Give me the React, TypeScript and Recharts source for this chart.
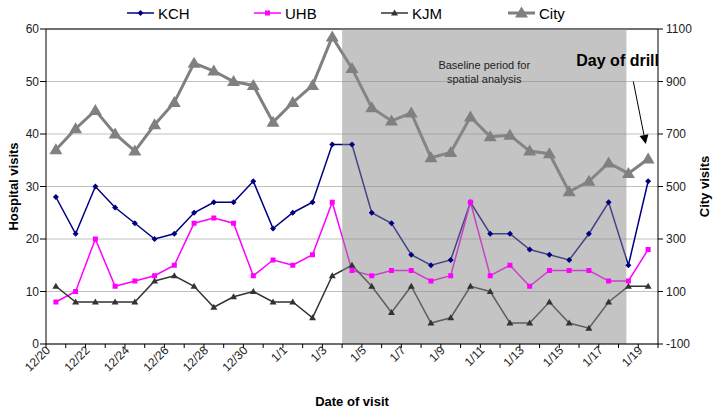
import React from "react";
import {
  ComposedChart,
  Line,
  XAxis,
  YAxis,
  CartesianGrid,
  ReferenceArea,
  ReferenceLine,
  Legend,
} from "recharts";

const dates = [
  "12/20", "12/21", "12/22", "12/23", "12/24", "12/25", "12/26", "12/27",
  "12/28", "12/29", "12/30", "12/31", "1/1", "1/2", "1/3", "1/4", "1/5",
  "1/6", "1/7", "1/8", "1/9", "1/10", "1/11", "1/12", "1/13", "1/14",
  "1/15", "1/16", "1/17", "1/18", "1/19",
];

const kch = [28, 21, 30, 26, 23, 20, 21, 25, 27, 27, 31, 22, 25, 27, 38, 38, 25, 23, 17, 15, 16, 27, 21, 21, 18, 17, 16, 21, 27, 15, 31];
const uhb = [8, 10, 20, 11, 12, 13, 15, 23, 24, 23, 13, 16, 15, 17, 27, 14, 13, 14, 14, 12, 13, 27, 13, 15, 11, 14, 14, 14, 12, 12, 18];
const kjm = [11, 8, 8, 8, 8, 12, 13, 11, 7, 9, 10, 8, 8, 5, 13, 15, 11, 6, 11, 4, 5, 11, 10, 4, 4, 8, 4, 3, 8, 11, 11];
const city = [640, 720, 790, 700, 635, 735, 820, 970, 940, 900, 885, 745, 820, 885, 1070, 950, 800, 750, 780, 610, 630, 765, 690, 695, 635, 625, 480, 520, 590, 550, 605];

const seriesNames = ["KCH", "UHB", "KJM", "City"];
const leftTicks = [0, 10, 20, 30, 40, 50, 60];
const rightTicks = [-100, 100, 300, 500, 700, 900, 1100];

// baseline window and drill arrow, in data units (day index / hospital visits)
const baselineStart = 14.5;
const baselineEnd = 28.9;
const drillArrow = [
  { x: 29.25, y: 50 },
  { x: 29.88, y: 38.1 },
];

const data = dates.map((d, i) => ({
  idx: i,
  date: d,
  KCH: kch[i],
  UHB: uhb[i],
  KJM: kjm[i],
  City: city[i],
}));

// boundaries between days, Excel-style tick marks
const xTicks = Array.from({ length: dates.length + 1 }, (_, i) => i - 0.5);

const FONT = "Arial, 'Liberation Sans', sans-serif";

const styles: Record<string, { color: string; width: number; marker: string }> = {
  KCH: { color: "#000080", width: 1.5, marker: "diamond" },
  UHB: { color: "#ff00ff", width: 1.5, marker: "square" },
  KJM: { color: "#333333", width: 1.5, marker: "smallTri" },
  City: { color: "#808080", width: 3, marker: "bigTri" },
};

function marker(kind: string, cx: number, cy: number, color: string, key?: any) {
  if (cx == null || cy == null) return <g key={key} />;
  switch (kind) {
    case "diamond":
      return (
        <polygon key={key} points={`${cx},${cy - 3} ${cx + 3},${cy} ${cx},${cy + 3} ${cx - 3},${cy}`} fill={color} />
      );
    case "square":
      return <rect key={key} x={cx - 2.5} y={cy - 2.5} width={5} height={5} fill={color} />;
    case "smallTri":
      return (
        <polygon key={key} points={`${cx},${cy - 3.5} ${cx + 3.5},${cy + 2.5} ${cx - 3.5},${cy + 2.5}`} fill={color} />
      );
    default:
      return (
        <polygon key={key} points={`${cx},${cy - 6.5} ${cx + 6.5},${cy + 4.5} ${cx - 6.5},${cy + 4.5}`} fill={color} />
      );
  }
}

const makeDot = (name: string) => (p: any) =>
  marker(styles[name].marker, p.cx, p.cy, styles[name].color, `${name}-${p.index}`);

const XTick = (props: any) => {
  const { x, y, payload } = props;
  const i = Math.round(payload.value + 0.5);
  if (i % 2 !== 0 || i >= dates.length) return <g />;
  const tx = x + 5;
  return (
    <text
      x={tx}
      y={y}
      transform={`rotate(-45 ${tx} ${y})`}
      textAnchor="end"
      fontSize={12}
      fontFamily={FONT}
      fill="#222"
    >
      {dates[i]}
    </text>
  );
};

const renderLegend = () => (
  <svg width={714} height={28}>
    {seriesNames.map((name, i) => {
      const st = styles[name];
      const x0 = 127 + i * 127;
      return (
        <g key={name}>
          <line x1={x0} y1={13} x2={x0 + 27} y2={13} stroke={st.color} strokeWidth={st.width} />
          {marker(st.marker, x0 + 13.5, 13, st.color)}
          <text x={x0 + 31} y={18.5} fontSize={15} fontFamily={FONT} fill="#000">
            {name}
          </text>
        </g>
      );
    })}
  </svg>
);

const BaselineLabel = (props: any) => {
  const vb = props.viewBox || {};
  const cx = vb.x + vb.width / 2;
  return (
    <g fontSize={11} fontFamily={FONT} fill="#222" textAnchor="middle">
      <text x={cx} y={vb.y + 40}>Baseline period for</text>
      <text x={cx} y={vb.y + 54}>spatial analysis</text>
    </g>
  );
};

const DrillArrow = (props: any) => {
  const { x1, y1, x2, y2 } = props;
  if (x1 == null) return <g />;
  const ang = Math.atan2(y2 - y1, x2 - x1);
  const L = 9;
  const W = 4.5;
  const bx = x2 - L * Math.cos(ang);
  const by = y2 - L * Math.sin(ang);
  const s = Math.sin(ang);
  const c = Math.cos(ang);
  return (
    <g>
      <line x1={x1} y1={y1} x2={bx} y2={by} stroke="#000" strokeWidth={1} />
      <polygon
        points={`${x2},${y2} ${bx + W * s},${by - W * c} ${bx - W * s},${by + W * c}`}
        fill="#000"
      />
      <text x={x1 - 57} y={y1 - 15.5} fontSize={16} fontWeight="bold" fontFamily={FONT} fill="#000">
        Day of drill
      </text>
    </g>
  );
};

const axisTitle = (text: string, side: "left" | "right") => (props: any) => {
  const vb = props.viewBox || {};
  const cy = vb.y + vb.height / 2;
  const x = side === "left" ? 18 : 709;
  return (
    <text
      x={x}
      y={cy}
      transform={`rotate(-90 ${x} ${cy})`}
      textAnchor="middle"
      fontSize={13}
      fontWeight="bold"
      fontFamily={FONT}
      fill="#000"
    >
      {text}
    </text>
  );
};

const XTitle = (props: any) => {
  const vb = props.viewBox || {};
  const cx = vb.x + vb.width / 2;
  return (
    <text x={cx} y={406} textAnchor="middle" fontSize={13} fontWeight="bold" fontFamily={FONT} fill="#000">
      Date of visit
    </text>
  );
};

export default function App() {
  const tickStyle = { fontSize: 12, fontFamily: FONT, fill: "#222" };
  return (
    <div style={{ position: "absolute", left: 0, top: 0, background: "#fff" }}>
      <ComposedChart width={714} height={409} data={data} margin={{ top: 29, right: 0, bottom: 0, left: 0 }}>
        <CartesianGrid yAxisId="left" vertical={false} stroke="#c0c0c0" />
        <XAxis
          dataKey="idx"
          type="number"
          domain={[-0.5, 30.5]}
          ticks={xTicks}
          interval={0}
          allowDecimals
          height={65}
          tick={<XTick />}
          tickSize={4}
          tickMargin={3}
          axisLine={{ stroke: "#000" }}
          tickLine={{ stroke: "#000" }}
          label={{ content: XTitle }}
        />
        <YAxis
          yAxisId="left"
          orientation="left"
          domain={[0, 60]}
          ticks={leftTicks}
          width={46}
          tick={tickStyle}
          tickSize={6}
          tickMargin={1}
          axisLine={{ stroke: "#000" }}
          tickLine={{ stroke: "#000" }}
          label={{ content: axisTitle("Hospital visits", "left") }}
        />
        <YAxis
          yAxisId="right"
          orientation="right"
          domain={[-100, 1100]}
          ticks={rightTicks}
          width={56}
          tick={{ ...tickStyle, textAnchor: "start" }}
          tickSize={5}
          tickMargin={3}
          axisLine={{ stroke: "#000" }}
          tickLine={{ stroke: "#000" }}
          label={{ content: axisTitle("City visits", "right") }}
        />
        <ReferenceLine yAxisId="left" y={60} stroke="#000" />
        <Legend
          content={renderLegend}
          layout="horizontal"
          verticalAlign="middle"
          align="center"
          wrapperStyle={{ top: 0, left: 0, width: 714, height: 28 }}
        />
        <Line
          yAxisId="left"
          dataKey="KCH"
          stroke={styles.KCH.color}
          strokeWidth={styles.KCH.width}
          dot={makeDot("KCH")}
          activeDot={false}
          isAnimationActive={false}
        />
        <Line
          yAxisId="left"
          dataKey="UHB"
          stroke={styles.UHB.color}
          strokeWidth={styles.UHB.width}
          dot={makeDot("UHB")}
          activeDot={false}
          isAnimationActive={false}
        />
        <Line
          yAxisId="left"
          dataKey="KJM"
          stroke={styles.KJM.color}
          strokeWidth={styles.KJM.width}
          dot={makeDot("KJM")}
          activeDot={false}
          isAnimationActive={false}
        />
        <Line
          yAxisId="right"
          dataKey="City"
          stroke={styles.City.color}
          strokeWidth={styles.City.width}
          dot={makeDot("City")}
          activeDot={false}
          isAnimationActive={false}
        />
        <ReferenceArea
          yAxisId="left"
          x1={baselineStart}
          x2={baselineEnd}
          y1={0}
          y2={60}
          fill="#8a8a8a"
          fillOpacity={0.5}
          stroke="none"
          zIndex={450}
          label={<BaselineLabel />}
        />
        <ReferenceLine yAxisId="left" segment={drillArrow} shape={DrillArrow} zIndex={2100} />
      </ComposedChart>
    </div>
  );
}
